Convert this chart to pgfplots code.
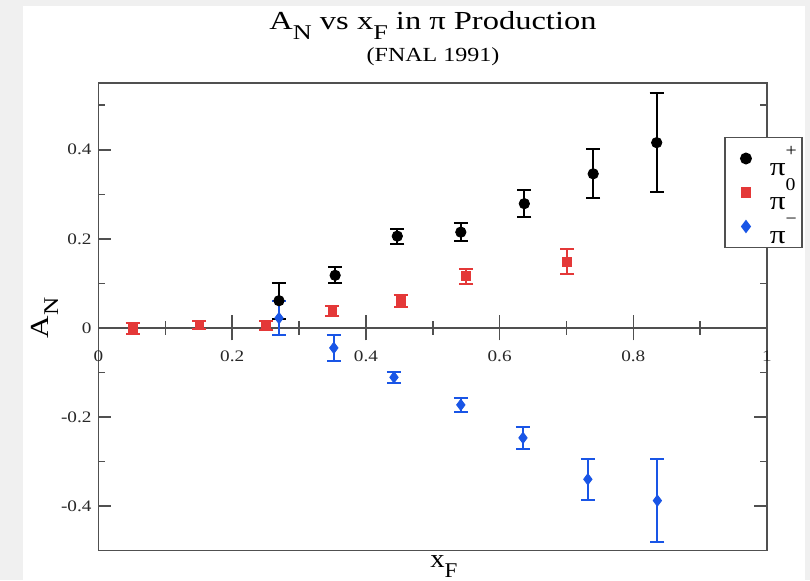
\documentclass[border=0pt]{standalone}
\usepackage{fontspec}
\setmainfont{Liberation Serif}
\usepackage{pgfplots}
\pgfplotsset{compat=1.18}
\definecolor{bggray}{RGB}{240,240,240}
\definecolor{axc}{RGB}{80,80,80}
\definecolor{labc}{RGB}{40,40,40}
\definecolor{pred}{RGB}{228,56,56}
\definecolor{pblue}{RGB}{25,85,230}
\newcommand\sx[1]{\scalebox{1.2}[1]{#1}}
\newcommand\leg[1]{\scalebox{1.2}[1]{π}\raisebox{9.5pt}{\fontsize{9}{9}\selectfont\scalebox{1.1}[1]{#1}}}
\begin{document}
\begin{tikzpicture}[x=1pt,y=1pt]
\fill[bggray] (-49.25,-14.75) rectangle (355.75,275.25);
\fill[white] (-37.75,-14.75) rectangle (353.25,272.25);
\useasboundingbox (-49.25,-14.75) rectangle (355.75,275.25);
\begin{axis}[at={(0,0)}, anchor=south west, scale only axis,
  width=334.25pt, height=233.75pt,
  xmin=0, xmax=1, ymin=-0.5, ymax=0.55,
  xtick=\empty,
  ytick={-0.4,-0.2,0,0.2,0.4},
  yticklabels={\sx{-0.4},\sx{-0.2},\sx{0},\sx{0.2},\sx{0.4}},
  minor ytick={-0.3,-0.1,0.1,0.3,0.5},
  ytick pos=both, yticklabel pos=left,
  tick align=inside, major tick length=6.5pt, minor tick length=3.5pt,
  axis line style={axc, line width=0.75pt},
  every tick/.style={axc, line width=0.75pt},
  yticklabel style={font=\fontsize{8}{9}\selectfont, text=labc},
]
\end{axis}
\begin{axis}[at={(0,0)}, anchor=south west, scale only axis,
  width=334.25pt, height=233.75pt,
  xmin=0, xmax=1, ymin=-0.5, ymax=0.55,
  axis x line*=middle, axis y line=none, ytick=\empty,
  xtick={0,0.2,0.4,0.6,0.8,1},
  xticklabels={\sx{0},\sx{0.2},\sx{0.4},\sx{0.6},\sx{0.8},\sx{1}},
  minor xtick={0.1,0.3,0.5,0.7,0.9},
  tick align=center, major tick length=12.5pt, minor tick length=7pt,
  axis line style={axc, line width=0.75pt},
  every tick/.style={axc, line width=0.75pt},
  xticklabel style={font=\fontsize{8}{9}\selectfont, text=labc, yshift=-1.5pt},
  clip=false,
  legend style={at={(rel axis cs:0.936,0.885)}, anchor=north west,
    draw=axc, line width=0.75pt, fill=white,
    inner xsep=2.5pt, inner ysep=2pt,
    font=\fontsize{13}{13}\selectfont,
    nodes={inner sep=0pt, text height=17pt, text depth=0pt},
    /tikz/every even column/.append style={column sep=0pt}},
  legend cell align=left,
  legend image code/.code={\path[draw=none, fill=none] (-8pt,0pt) -- (12pt,0pt);
    \draw[#1] plot coordinates {(0pt,0pt)};},
  error bars/error bar style={line width=1pt},
  error bars/error mark options={rotate=90, mark size=3.5pt, line width=1pt},
]
\addplot[only marks, mark=*, mark size=2.6pt, black,
  error bars/.cd, y dir=both, y explicit]
  table[x=x, y=y, y error=e] {
x y e
0.270 0.061 0.040
0.354 0.118 0.018
0.447 0.206 0.017
0.542 0.215 0.020
0.637 0.279 0.031
0.740 0.346 0.055
0.835 0.416 0.111
};
\addlegendentry{\leg{+}}
\addplot[only marks, mark=square*, mark size=2.2pt, pred,
  error bars/.cd, y dir=both, y explicit]
  table[x=x, y=y, y error=e] {
x y e
0.051 -0.002 0.012
0.151 0.006 0.009
0.251 0.005 0.010
0.350 0.038 0.012
0.452 0.060 0.014
0.550 0.116 0.017
0.701 0.149 0.029
};
\addlegendentry{\leg{0}}
\addplot[only marks, mark=diamond*, mark size=2.8pt, pblue,
  error bars/.cd, y dir=both, y explicit]
  table[x=x, y=y, y error=e] {
x y e
0.270 0.022 0.038
0.352 -0.045 0.029
0.442 -0.111 0.012
0.542 -0.173 0.016
0.635 -0.247 0.025
0.732 -0.340 0.046
0.836 -0.388 0.093
};
\addlegendentry{\leg{−}}
\end{axis}
\draw[axc, line width=0.75pt] (0,233.75) -- (334.25,233.75);
\node[anchor=base] at (167.25,260.25) {\fontsize{13}{13}\selectfont\scalebox{1.25}[1]{A\raisebox{-5pt}{\fontsize{10.5}{10.5}\selectfont N} vs x\raisebox{-5pt}{\fontsize{10.5}{10.5}\selectfont F} in π Production}};
\node[anchor=base] at (167.25,244.25) {\fontsize{10}{10}\selectfont\scalebox{1.2}[1]{(FNAL 1991)}};
\node[rotate=90, anchor=center] at (-27,116.25) {\fontsize{13}{13}\selectfont\scalebox{1.2}[1]{A\raisebox{-5pt}{\fontsize{10.5}{10.5}\selectfont N}}};
\node[anchor=base west, inner sep=0pt] at (165.75,-8.5) {\fontsize{13}{13}\selectfont\scalebox{1.1}[1]{x\raisebox{-5pt}{\fontsize{10.5}{10.5}\selectfont F}}};
\end{tikzpicture}
\end{document}
